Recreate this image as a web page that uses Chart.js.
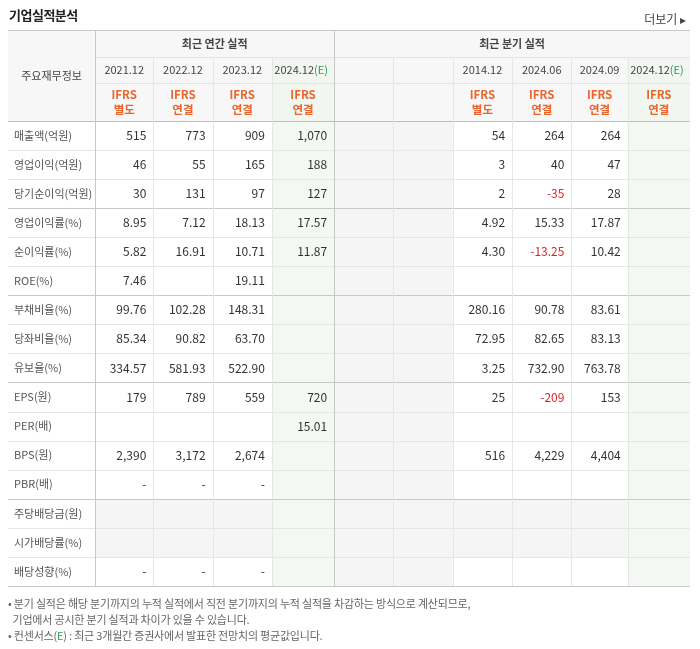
<!DOCTYPE html>
<html>
<head>
<meta charset="utf-8">
<script src="https://cdn.jsdelivr.net/npm/chart.js@4"></script>
<style>
  body { margin: 0; background: #fff; font-family: "Noto Sans CJK KR", sans-serif; }
  #wrap { position: relative; width: 700px; height: 649px; }
  #title { position: absolute; left: 9px; top: 5px; font-size: 13px; font-weight: bold; color: #222; letter-spacing: -0.5px; }
  #more { position: absolute; right: 14px; top: 10px; font-size: 12px; color: #444; }
  #notes { position: absolute; left: 8px; top: 595px; font-size: 11px; color: #666; line-height: 16px; letter-spacing: -0.2px; }
  #notes .e { color: #2a9d50; }
</style>
</head>
<body>
<div id="wrap">
  <canvas id="tableChart"></canvas>
  <div id="title">기업실적분석</div>
  <div id="more">더보기 ▸</div>
  <div id="notes">
    • 분기 실적은 해당 분기까지의 누적 실적에서 직전 분기까지의 누적 실적을 차감하는 방식으로 계산되므로,<br>
    &nbsp;&nbsp;기업에서 공시한 분기 실적과 차이가 있을 수 있습니다.<br>
    • 컨센서스(<span class="e">E</span>) : 최근 3개월간 증권사에서 발표한 전망치의 평균값입니다.
  </div>
</div>
<script>
const rowLabels = ["매출액(억원)", "영업이익(억원)", "당기순이익(억원)", "영업이익률(%)", "순이익률(%)", "ROE(%)",
    "부채비율(%)", "당좌비율(%)", "유보율(%)", "EPS(원)", "PER(배)", "BPS(원)", "PBR(배)",
    "주당배당금(원)", "시가배당률(%)", "배당성향(%)"];
const decimalRows = [3, 4, 5, 6, 7, 8, 10];

const annualPeriods = ["2021.12", "2022.12", "2023.12", "2024.12"];
const annualBasis = ["별도", "연결", "연결", "연결"];
const annualValues = [
    [515, 773, 909, 1070],
    [46, 55, 165, 188],
    [30, 131, 97, 127],
    [8.95, 7.12, 18.13, 17.57],
    [5.82, 16.91, 10.71, 11.87],
    [7.46, null, 19.11, null],
    [99.76, 102.28, 148.31, null],
    [85.34, 90.82, 63.70, null],
    [334.57, 581.93, 522.90, null],
    [179, 789, 559, 720],
    [null, null, null, 15.01],
    [2390, 3172, 2674, null],
    ["-", "-", "-", null],
    [null, null, null, null],
    [null, null, null, null],
    ["-", "-", "-", null]
];

const quarterPeriods = ["", "", "2014.12", "2024.06", "2024.09", "2024.12"];
const quarterBasis = [null, null, "별도", "연결", "연결", "연결"];
const quarterValues = [
    [null, null, 54, 264, 264, null],
    [null, null, 3, 40, 47, null],
    [null, null, 2, -35, 28, null],
    [null, null, 4.92, 15.33, 17.87, null],
    [null, null, 4.30, -13.25, 10.42, null],
    [null, null, null, null, null, null],
    [null, null, 280.16, 90.78, 83.61, null],
    [null, null, 72.95, 82.65, 83.13, null],
    [null, null, 3.25, 732.90, 763.78, null],
    [null, null, 25, -209, 153, null],
    [null, null, null, null, null, null],
    [null, null, 516, 4229, 4404, null],
    [null, null, null, null, null, null],
    [null, null, null, null, null, null],
    [null, null, null, null, null, null],
    [null, null, null, null, null, null]
];

// column edges in x units: label column ~1.47 wide, others 1 (estimate columns a bit wider)
const colEdges = [0, 1.47, 2.45, 3.45, 4.45, 5.5, 6.5, 7.5, 8.5, 9.5, 10.45, 11.5];
const estimateCols = [4, 10];
const greyCols = [5, 6];
// row edges in y units (pixels below table top)
const rowH = 29.125;
const rowEdges = rowLabels.map((_, i) => 91 + i * rowH).concat([91 + rowLabels.length * rowH]);
const groupBreaks = [3, 6, 9, 13];
const greyRows = [13, 14];

function fmt(v, row) {
    if (v === null) return "";
    if (typeof v === "string") return v;
    if (decimalRows.includes(row)) return v.toFixed(2);
    return v.toLocaleString("en-US");
}

const tablePlugin = {
    id: "tablePlugin",
    afterDraw(chart) {
        const { ctx, scales: { x, y } } = chart;
        const X = v => x.getPixelForValue(v);
        const Y = v => y.getPixelForValue(v);
        const left = X(0), right = X(11.5), top = Y(0), bottom = Y(rowEdges[rowEdges.length - 1]);
        const kfont = "11px 'Noto Sans CJK KR', sans-serif";
        const nfont = "12px 'Noto Sans CJK KR', sans-serif";

        // backgrounds
        ctx.fillStyle = "#f7f7f7";
        ctx.fillRect(left, top, right - left, Y(91) - top);
        for (let c = 1; c < 11; c++) {
            const est = estimateCols.includes(c);
            for (let r = 0; r < rowLabels.length; r++) {
                let fill = est ? "#f3f8f3" : null;
                if (!fill && (greyCols.includes(c) || greyRows.includes(r))) fill = "#f5f5f5";
                if (!fill) continue;
                ctx.fillStyle = fill;
                ctx.fillRect(X(colEdges[c]), Y(rowEdges[r]), X(colEdges[c + 1]) - X(colEdges[c]), Y(rowEdges[r + 1]) - Y(rowEdges[r]));
            }
            if (est) {
                ctx.fillStyle = "#f1f6f1";
                ctx.fillRect(X(colEdges[c]), Y(27), X(colEdges[c + 1]) - X(colEdges[c]), Y(91) - Y(27));
            }
        }

        // lines
        const hline = (yy, x0, x1, col) => {
            ctx.strokeStyle = col; ctx.lineWidth = 1; ctx.beginPath();
            ctx.moveTo(x0, Math.round(yy) + 0.5); ctx.lineTo(x1, Math.round(yy) + 0.5); ctx.stroke();
        };
        const vline = (xx, y0, y1, col) => {
            ctx.strokeStyle = col; ctx.lineWidth = 1; ctx.beginPath();
            ctx.moveTo(Math.round(xx) + 0.5, y0); ctx.lineTo(Math.round(xx) + 0.5, y1); ctx.stroke();
        };
        rowEdges.forEach((e, i) => {
            const strong = i === rowEdges.length - 1 || groupBreaks.includes(i);
            hline(Y(e), left, right, strong ? "#c8c8c8" : "#e6e6e6");
        });
        hline(Y(27), X(colEdges[1]), right, "#e3e3e3");
        hline(Y(53), X(colEdges[1]), right, "#e3e3e3");
        hline(top, left, right, "#c8c8c8");
        hline(Y(91), left, right, "#bdbdbd");
        for (let c = 2; c < 11; c++) {
            if (c === 5) continue;
            vline(X(colEdges[c]), Y(27), bottom, "#e6e6e6");
        }
        vline(X(colEdges[1]), top, bottom, "#c8c8c8");
        vline(X(colEdges[5]), top, bottom, "#c8c8c8");

        // header text
        ctx.textBaseline = "middle";
        ctx.textAlign = "center";
        ctx.fillStyle = "#444";
        ctx.font = kfont;
        ctx.fillText("주요재무정보", X(colEdges[1] / 2), Y(45.5));
        ctx.font = "bold 11px 'Noto Sans CJK KR', sans-serif";
        ctx.fillText("최근 연간 실적", (X(colEdges[1]) + X(colEdges[5])) / 2, Y(13.5));
        ctx.fillText("최근 분기 실적", (X(colEdges[5]) + X(11.5)) / 2, Y(13.5));

        const periods = annualPeriods.concat(quarterPeriods);
        const bases = annualBasis.concat(quarterBasis);
        periods.forEach((p, i) => {
            const c = i + 1;
            const cx = (X(colEdges[c]) + X(colEdges[c + 1])) / 2;
            ctx.font = "11px 'Noto Sans CJK KR', sans-serif";
            if (p) {
                if (estimateCols.includes(c)) {
                    ctx.textAlign = "right";
                    ctx.fillStyle = "#444";
                    ctx.fillText(p, cx + 11, Y(40));
                    ctx.textAlign = "left";
                    ctx.fillStyle = "#2a9d50";
                    ctx.fillText("(E)", cx + 11, Y(40));
                    ctx.textAlign = "center";
                } else {
                    ctx.fillStyle = "#444";
                    ctx.fillText(p, cx, Y(40));
                }
            }
            if (bases[i]) {
                ctx.fillStyle = "#e8652c";
                ctx.font = "bold 11.5px 'Noto Sans CJK KR', sans-serif";
                ctx.fillText("IFRS", cx, Y(65));
                ctx.fillText(bases[i], cx, Y(80));
            }
        });

        // body
        rowLabels.forEach((label, r) => {
            const cy = (Y(rowEdges[r]) + Y(rowEdges[r + 1])) / 2;
            ctx.font = kfont;
            ctx.textAlign = "left";
            ctx.fillStyle = "#555";
            ctx.fillText(label, left + 6, cy);
            const vals = annualValues[r].concat(quarterValues[r]);
            ctx.font = nfont;
            ctx.textAlign = "right";
            vals.forEach((v, i) => {
                const c = i + 1;
                const txt = fmt(v, r);
                if (!txt) return;
                ctx.fillStyle = typeof v === "number" && v < 0 ? "#e32222" : "#333";
                ctx.fillText(txt, X(colEdges[c + 1]) - 7, cy);
            });
        });
    }
};

new Chart(document.getElementById("tableChart"), {
    type: "scatter",
    data: { datasets: [{ data: [] }] },
    options: {
        responsive: true,
        maintainAspectRatio: false,
        animation: false,
        layout: { padding: { left: 8, right: 10, top: 30, bottom: 63 } },
        plugins: { legend: { display: false }, tooltip: { enabled: false } },
        scales: {
            x: { type: "linear", min: 0, max: 11.5, display: false },
            y: { type: "linear", min: 0, max: rowEdges[rowEdges.length - 1], reverse: true, display: false }
        }
    },
    plugins: [tablePlugin]
});
</script>
</body>
</html>
